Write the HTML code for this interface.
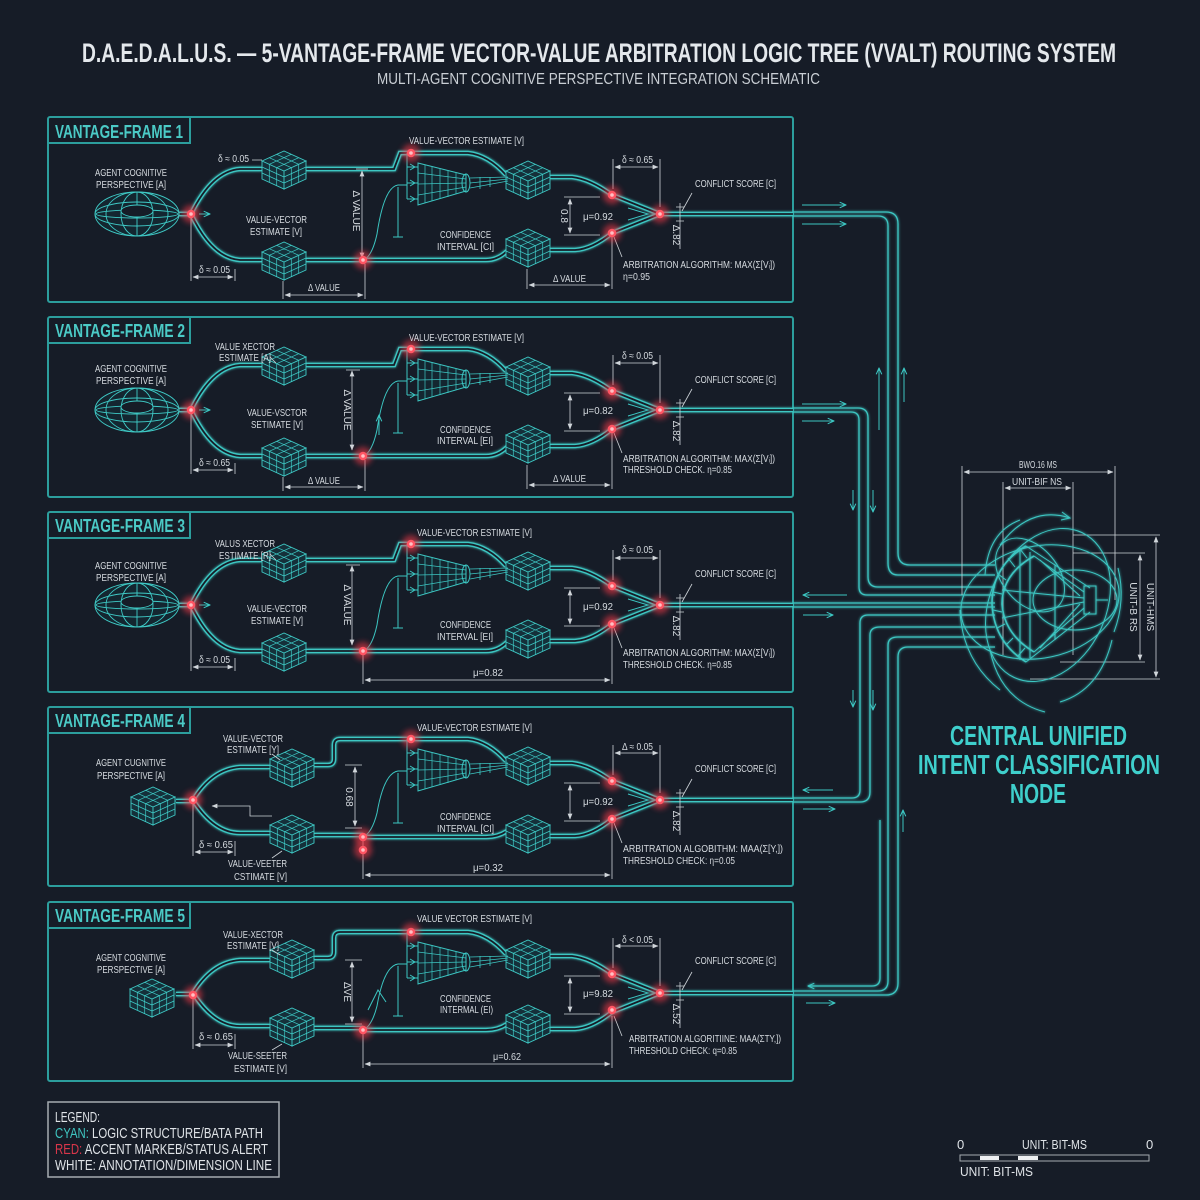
<!DOCTYPE html>
<html><head><meta charset="utf-8"><style>
html,body{margin:0;padding:0;background:#161c27;}
svg{display:block;}
.t{font-family:"Liberation Sans","DejaVu Sans",sans-serif;fill:#d6dbe0;font-size:10px;}
.lab{font-family:"Liberation Sans",sans-serif;font-weight:bold;fill:#4bcac6;font-size:18px;}
</style></head><body>
<svg width="1200" height="1200" viewBox="0 0 1200 1200" xmlns="http://www.w3.org/2000/svg" xmlns:xlink="http://www.w3.org/1999/xlink">
<defs>
<filter id="glow" filterUnits="userSpaceOnUse" x="-200" y="-1200" width="1600" height="2600"><feGaussianBlur stdDeviation="1.3" result="b"/><feMerge><feMergeNode in="b"/><feMergeNode in="SourceGraphic"/></feMerge></filter>
<filter id="rb" filterUnits="userSpaceOnUse" x="-2000" y="-2000" width="4000" height="4000"><feGaussianBlur stdDeviation="3"/></filter>
<marker id="aw" viewBox="0 0 10 10" refX="9" refY="5" markerWidth="6" markerHeight="6" markerUnits="userSpaceOnUse" orient="auto-start-reverse"><path d="M0 1 L10 5 L0 9 z" fill="#d0d5da"/></marker>
<marker id="ac" viewBox="0 0 10 10" refX="9" refY="5" markerWidth="7" markerHeight="7" markerUnits="userSpaceOnUse" orient="auto-start-reverse"><path d="M0 1 L9 5 L0 9" fill="none" stroke="#3cc6c2" stroke-width="1.5"/></marker>

<g id="cube" stroke="#3fcac6" stroke-width="0.9" fill="none">
<path d="M-22 -8 L0 -18 L22 -8 L0 2 Z M-22 -8 L0 2 L0 20 L-22 10 Z M0 2 L22 -8 L22 10 L0 20 Z" fill="#15303a"/>
<path d="M-22 -2 L0 8 M-22 4 L0 14 M-14.7 -4.7 V13.3 M-7.3 -1.3 V16.7 M0 8 L22 -2 M0 14 L22 4 M7.3 -1.3 V16.7 M14.7 -4.7 V13.3 M-14.7 -11.3 L7.3 -1.3 M-7.3 -14.7 L14.7 -4.7 M-14.7 -4.7 L7.3 -14.7 M-7.3 -1.3 L14.7 -11.3" stroke-width="0.7"/>
</g>

<g id="torus" stroke="#3fcac6" stroke-width="0.9" fill="none">
<ellipse rx="42" ry="22" fill="#142630"/>
<ellipse rx="42" ry="12"/>
<ellipse rx="41" ry="4"/>
<ellipse rx="31" ry="22"/>
<ellipse rx="16" ry="22"/>
<path d="M0 -22 V22"/>
<ellipse cy="-3" rx="16" ry="6" fill="#161c27"/>
</g>

<g id="rn"><circle r="9" fill="#ff3b4a" opacity="0.55" filter="url(#rb)"/><circle r="4.3" fill="#ff5563"/><circle r="1.8" fill="#ffc0c4"/></g>

<g id="dblA" fill="none">
<path d="M179 95 H191"/>
<path d="M191 95 Q212 52 240 50 H262"/>
<path d="M191 95 Q212 139 240 141 H262"/>
<path d="M306 50 H394 L400 34 H411"/>
<path d="M306 141 H363"/>
<path d="M363 141 H486 Q498 141 507 132"/>
<path d="M411 34 H468 Q488 36 506 56"/>
<path d="M550 58 H572 Q590 60 612 76 L660 95"/>
<path d="M550 131 H575 Q592 130 612 114 L660 95"/>
<path d="M660 95 H793"/>
</g>
<g id="dblB" fill="none">
<path d="M176 96 H193"/>
<path d="M193 95 Q212 64 240 62 H270"/>
<path d="M193 95 Q214 128 240 128 H270"/>
<path d="M314 60 H328 Q334 60 334 54 V40 Q334 34 340 34 H411"/>
<path d="M314 130 H363"/>
<path d="M363 132 H486 Q498 132 507 126"/>
<path d="M411 34 H468 Q488 36 506 56"/>
<path d="M550 58 H572 Q590 60 612 76 L660 95"/>
<path d="M550 131 H575 Q592 130 612 114 L660 95"/>
<path d="M660 95 H793"/>
</g>

<g id="rthin" fill="none" stroke="#3cc6c2" stroke-width="1">
<path d="M418 44 L466 56 L466 72 L418 86 Z" fill="#142630"/>
<path d="M418 54 L466 60 M418 65 L466 64 M418 76 L466 68 M432 48 V82 M448 52 V78 M425 46 V84 M440 50 V80 M456 54 V75" stroke-width="0.7"/>
<ellipse cx="466" cy="64" rx="4" ry="9"/>
<path d="M470 59 L508 58 M470 64 L508 60 M470 69 L508 62 M480 58 V70 M490 58 V68" stroke-width="0.8"/>
<path d="M407 34 V80 M407 48 H418 M407 64 H418 M407 80 H418"/>
<path d="M410 45 l5 3 -5 3 M410 61 l5 3 -5 3 M410 77 l5 3 -5 3"/>
<path d="M398 68 V118 M393 118 H403"/>
<path d="M628 89 L648 95 L628 101"/>
</g>

<g id="rdim" fill="none" stroke="#cdd3d8" stroke-width="0.8">
<path d="M613 40 V70 M660 40 V88"/>
<path d="M615 48 H658" marker-start="url(#aw)" marker-end="url(#aw)"/>
<path d="M564 78 H600 M564 116 H600"/>
<path d="M570 80 V114" marker-start="url(#aw)" marker-end="url(#aw)"/>
<path d="M680 84 V130"/>
<path d="M676 88 H684 M676 102 H684"/>
<path d="M682 92 L692 74"/>
<path d="M614 118 L622 138"/>
</g>
</defs>

<rect width="1200" height="1200" fill="#161c27"/>

<!-- Title -->
<text x="82" y="62" textLength="1034" lengthAdjust="spacingAndGlyphs" font-family="Liberation Sans, sans-serif" font-weight="bold" font-size="27" fill="#e4e8ec">D.A.E.D.A.L.U.S. — 5-VANTAGE-FRAME VECTOR-VALUE ARBITRATION LOGIC TREE (VVALT) ROUTING SYSTEM</text>
<text x="377" y="84" textLength="443" lengthAdjust="spacingAndGlyphs" font-family="Liberation Sans, sans-serif" font-size="16" fill="#c9ced4">MULTI-AGENT COGNITIVE PERSPECTIVE INTEGRATION SCHEMATIC</text>

<!-- Frame boxes -->
<g fill="none" stroke="#2c9e9d" stroke-width="2">
<rect x="48" y="117" width="745" height="185" rx="2"/><path d="M48 143 H190 V117"/>
<rect x="48" y="317" width="745" height="180" rx="2"/><path d="M48 343 H190 V317"/>
<rect x="48" y="512" width="745" height="180" rx="2"/><path d="M48 538 H190 V512"/>
<rect x="48" y="707" width="745" height="179" rx="2"/><path d="M48 733 H190 V707"/>
<rect x="48" y="902" width="745" height="179" rx="2"/><path d="M48 928 H190 V902"/>
</g>
<text class="lab" x="55" y="138" textLength="128" lengthAdjust="spacingAndGlyphs">VANTAGE-FRAME 1</text>
<text class="lab" x="55" y="337" textLength="130" lengthAdjust="spacingAndGlyphs">VANTAGE-FRAME 2</text>
<text class="lab" x="55" y="532" textLength="130" lengthAdjust="spacingAndGlyphs">VANTAGE-FRAME 3</text>
<text class="lab" x="55" y="727" textLength="130" lengthAdjust="spacingAndGlyphs">VANTAGE-FRAME 4</text>
<text class="lab" x="55" y="922" textLength="130" lengthAdjust="spacingAndGlyphs">VANTAGE-FRAME 5</text>

<!-- ===== FRAME 1 ===== -->
<g transform="translate(0,119)">
<use href="#dblA" stroke="#3cc6c2" stroke-width="4.6" filter="url(#glow)"/>
<use href="#dblA" stroke="#161c27" stroke-width="1.8"/>
<use href="#torus" x="137" y="95"/>
<use href="#cube" x="284" y="50"/><use href="#cube" x="284" y="141"/>
<use href="#cube" x="528" y="60"/><use href="#cube" x="528" y="128"/>
<use href="#rthin"/>
<path d="M363 141 Q372 138 377 115 Q384 68 398 66 H407" fill="none" stroke="#3cc6c2" stroke-width="1"/>
<path d="M199 95 H210" fill="none" stroke="#3cc6c2" stroke-width="1" marker-end="url(#ac)"/>
<use href="#rdim"/>
<g fill="none" stroke="#cdd3d8" stroke-width="0.8">
<path d="M191 99 V162 M235 150 V162 M283 162 V180 M365 145 V180 M252 41 H262 M356 50 H368"/>
<path d="M193 158 H233" marker-start="url(#aw)" marker-end="url(#aw)"/>
<path d="M285 176 H363" marker-start="url(#aw)" marker-end="url(#aw)"/>
<path d="M362 52 V139" marker-start="url(#aw)" marker-end="url(#aw)"/>
<path d="M527 150 V170 M612 118 V170"/>
<path d="M529 166 H610" marker-start="url(#aw)" marker-end="url(#aw)"/>
</g>
<use href="#rn" x="191" y="95"/><use href="#rn" x="411" y="34"/><use href="#rn" x="363" y="141"/>
<use href="#rn" x="612" y="76"/><use href="#rn" x="612" y="114"/><use href="#rn" x="660" y="95"/>
<text class="t" x="95" y="57" textLength="72" lengthAdjust="spacingAndGlyphs">AGENT COGNITIVE</text>
<text class="t" x="96" y="69" textLength="70" lengthAdjust="spacingAndGlyphs">PERSPECTIVE [A]</text>
<text class="t" x="218" y="43" textLength="31" lengthAdjust="spacingAndGlyphs">δ ≈ 0.05</text>
<text class="t" x="246" y="104" textLength="61" lengthAdjust="spacingAndGlyphs">VALUE-VECTOR</text>
<text class="t" x="250" y="116" textLength="52" lengthAdjust="spacingAndGlyphs">ESTIMATE [V]</text>
<text class="t" x="199" y="154" textLength="31" lengthAdjust="spacingAndGlyphs">δ ≈ 0.05</text>
<text class="t" x="308" y="172" textLength="32" lengthAdjust="spacingAndGlyphs">Δ VALUE</text>
<text class="t" transform="translate(353,92) rotate(90)" text-anchor="middle">Δ VALUE</text>
<text class="t" x="409" y="25" textLength="115" lengthAdjust="spacingAndGlyphs">VALUE-VECTOR ESTIMATE [V]</text>
<text class="t" x="622" y="44" textLength="31" lengthAdjust="spacingAndGlyphs">δ ≈ 0.65</text>
<text class="t" x="695" y="68" textLength="81" lengthAdjust="spacingAndGlyphs">CONFLICT SCORE [C]</text>
<text class="t" x="583" y="101" textLength="30" lengthAdjust="spacingAndGlyphs">μ=0.92</text>
<text class="t" transform="translate(561,97) rotate(90)" text-anchor="middle">0.8</text>
<text class="t" x="440" y="119" textLength="51" lengthAdjust="spacingAndGlyphs">CONFIDENCE</text>
<text class="t" x="437" y="131" textLength="57" lengthAdjust="spacingAndGlyphs">INTERVAL [CI]</text>
<text class="t" x="623" y="149" textLength="152" lengthAdjust="spacingAndGlyphs">ARBITRATION ALGORITHM: MAX(Σ[Vᵢ])</text>
<text class="t" x="623" y="161" textLength="27" lengthAdjust="spacingAndGlyphs">η=0.95</text>
<text class="t" x="553" y="163" textLength="33" lengthAdjust="spacingAndGlyphs">Δ VALUE</text>
<text class="t" transform="translate(673,116) rotate(90)" text-anchor="middle" font-size="8">Δ.82</text>
</g>

<!-- ===== FRAME 2 ===== -->
<g transform="translate(0,315)">
<use href="#dblA" stroke="#3cc6c2" stroke-width="4.6" filter="url(#glow)"/>
<use href="#dblA" stroke="#161c27" stroke-width="1.8"/>
<use href="#torus" x="137" y="95"/>
<use href="#cube" x="284" y="50"/><use href="#cube" x="284" y="141"/>
<use href="#cube" x="528" y="60"/><use href="#cube" x="528" y="128"/>
<use href="#rthin"/>
<path d="M363 141 Q372 138 377 115 Q384 68 398 66 H407" fill="none" stroke="#3cc6c2" stroke-width="1"/>
<path d="M199 95 H210" fill="none" stroke="#3cc6c2" stroke-width="1" marker-end="url(#ac)"/>
<path d="M379 120 V100" fill="none" stroke="#3cc6c2" stroke-width="1" marker-end="url(#ac)"/>
<use href="#rdim"/>
<g fill="none" stroke="#cdd3d8" stroke-width="0.8">
<path d="M191 99 V159 M235 148 V159 M283 162 V176 M365 145 V176 M270 42 L276 48 M346 55 H360"/>
<path d="M193 155 H233" marker-start="url(#aw)" marker-end="url(#aw)"/>
<path d="M285 172 H363" marker-start="url(#aw)" marker-end="url(#aw)"/>
<path d="M352 56 V135" marker-start="url(#aw)" marker-end="url(#aw)"/>
<path d="M527 150 V174 M612 118 V174"/>
<path d="M529 170 H610" marker-start="url(#aw)" marker-end="url(#aw)"/>
</g>
<use href="#rn" x="191" y="95"/><use href="#rn" x="411" y="34"/><use href="#rn" x="363" y="141"/>
<use href="#rn" x="612" y="76"/><use href="#rn" x="612" y="114"/><use href="#rn" x="660" y="95"/>
<text class="t" x="95" y="57" textLength="72" lengthAdjust="spacingAndGlyphs">AGENT COGNITIVE</text>
<text class="t" x="96" y="69" textLength="70" lengthAdjust="spacingAndGlyphs">PERSPECTIVE [A]</text>
<text class="t" x="215" y="35" textLength="60" lengthAdjust="spacingAndGlyphs">VALUE XECTOR</text>
<text class="t" x="219" y="46" textLength="52" lengthAdjust="spacingAndGlyphs">ESTIMATE [A]</text>
<text class="t" x="247" y="101" textLength="60" lengthAdjust="spacingAndGlyphs">VALUE-VSCTOR</text>
<text class="t" x="251" y="113" textLength="52" lengthAdjust="spacingAndGlyphs">SETIMATE [V]</text>
<text class="t" x="199" y="151" textLength="31" lengthAdjust="spacingAndGlyphs">δ ≈ 0.65</text>
<text class="t" x="308" y="169" textLength="32" lengthAdjust="spacingAndGlyphs">Δ VALUE</text>
<text class="t" transform="translate(344,95) rotate(90)" text-anchor="middle">Δ VALUE</text>
<text class="t" x="409" y="26" textLength="115" lengthAdjust="spacingAndGlyphs">VALUE-VECTOR ESTIMATE [V]</text>
<text class="t" x="622" y="44" textLength="31" lengthAdjust="spacingAndGlyphs">δ ≈ 0.05</text>
<text class="t" x="695" y="68" textLength="81" lengthAdjust="spacingAndGlyphs">CONFLICT SCORE [C]</text>
<text class="t" x="583" y="99" textLength="30" lengthAdjust="spacingAndGlyphs">μ=0.82</text>
<text class="t" x="440" y="118" textLength="51" lengthAdjust="spacingAndGlyphs">CONFIDENCE</text>
<text class="t" x="437" y="129" textLength="56" lengthAdjust="spacingAndGlyphs">INTERVAL [EI]</text>
<text class="t" x="623" y="147" textLength="152" lengthAdjust="spacingAndGlyphs">ARBITRATION ALGORITHM: MAX(Σ[Vᵢ])</text>
<text class="t" x="623" y="158" textLength="109" lengthAdjust="spacingAndGlyphs">THRESHOLD CHECK. η=0.85</text>
<text class="t" x="553" y="167" textLength="33" lengthAdjust="spacingAndGlyphs">Δ VALUE</text>
<text class="t" transform="translate(673,116) rotate(90)" text-anchor="middle" font-size="8">Δ.82</text>
</g>

<!-- ===== FRAME 3 ===== -->
<g transform="translate(0,510)">
<use href="#dblA" stroke="#3cc6c2" stroke-width="4.6" filter="url(#glow)"/>
<use href="#dblA" stroke="#161c27" stroke-width="1.8"/>
<use href="#torus" x="137" y="95"/>
<use href="#cube" x="284" y="52"/><use href="#cube" x="284" y="141"/>
<use href="#cube" x="528" y="60"/><use href="#cube" x="528" y="128"/>
<use href="#rthin"/>
<path d="M363 141 Q372 138 377 115 Q384 68 398 66 H407" fill="none" stroke="#3cc6c2" stroke-width="1"/>
<path d="M199 95 H210" fill="none" stroke="#3cc6c2" stroke-width="1" marker-end="url(#ac)"/>
<use href="#rdim"/>
<g fill="none" stroke="#cdd3d8" stroke-width="0.8">
<path d="M191 99 V161 M235 148 V161 M270 44 L276 50 M346 55 H360"/>
<path d="M193 157 H233" marker-start="url(#aw)" marker-end="url(#aw)"/>
<path d="M352 56 V135" marker-start="url(#aw)" marker-end="url(#aw)"/>
<path d="M363 145 V174 M612 118 V174"/>
<path d="M365 170 H610" marker-start="url(#aw)" marker-end="url(#aw)"/>
</g>
<use href="#rn" x="191" y="95"/><use href="#rn" x="411" y="34"/><use href="#rn" x="363" y="141"/>
<use href="#rn" x="612" y="76"/><use href="#rn" x="612" y="114"/><use href="#rn" x="660" y="95"/>
<text class="t" x="95" y="59" textLength="72" lengthAdjust="spacingAndGlyphs">AGENT COGNITIVE</text>
<text class="t" x="96" y="71" textLength="70" lengthAdjust="spacingAndGlyphs">PERSPECTIVE [A]</text>
<text class="t" x="215" y="37" textLength="60" lengthAdjust="spacingAndGlyphs">VALUS XECTOR</text>
<text class="t" x="219" y="49" textLength="52" lengthAdjust="spacingAndGlyphs">ESTIMATE [R]</text>
<text class="t" x="247" y="102" textLength="60" lengthAdjust="spacingAndGlyphs">VALUE-VECTOR</text>
<text class="t" x="251" y="114" textLength="52" lengthAdjust="spacingAndGlyphs">ESTIMATE [V]</text>
<text class="t" x="199" y="153" textLength="31" lengthAdjust="spacingAndGlyphs">δ ≈ 0.05</text>
<text class="t" transform="translate(344,95) rotate(90)" text-anchor="middle">Δ VALUE</text>
<text class="t" x="417" y="26" textLength="115" lengthAdjust="spacingAndGlyphs">VALUE-VECTOR ESTIMATE [V]</text>
<text class="t" x="622" y="43" textLength="31" lengthAdjust="spacingAndGlyphs">δ ≈ 0.05</text>
<text class="t" x="695" y="67" textLength="81" lengthAdjust="spacingAndGlyphs">CONFLICT SCORE [C]</text>
<text class="t" x="583" y="100" textLength="30" lengthAdjust="spacingAndGlyphs">μ=0.92</text>
<text class="t" x="440" y="118" textLength="51" lengthAdjust="spacingAndGlyphs">CONFIDENCE</text>
<text class="t" x="437" y="130" textLength="56" lengthAdjust="spacingAndGlyphs">INTERVAL [EI]</text>
<text class="t" x="623" y="146" textLength="152" lengthAdjust="spacingAndGlyphs">ARBITRATION ALGORITHM: MAX(Σ[Vᵢ])</text>
<text class="t" x="623" y="158" textLength="109" lengthAdjust="spacingAndGlyphs">THRESHOLD CHECK. η=0.85</text>
<text class="t" x="473" y="166" textLength="30" lengthAdjust="spacingAndGlyphs">μ=0.82</text>
<text class="t" transform="translate(673,116) rotate(90)" text-anchor="middle" font-size="8">Δ.82</text>
</g>

<!-- ===== FRAME 4 ===== -->
<g transform="translate(0,705)">
<use href="#dblB" stroke="#3cc6c2" stroke-width="4.6" filter="url(#glow)"/>
<use href="#dblB" stroke="#161c27" stroke-width="1.8"/>
<use href="#cube" x="153" y="100"/>
<use href="#cube" x="292" y="62"/><use href="#cube" x="292" y="128"/>
<use href="#cube" x="528" y="60"/><use href="#cube" x="528" y="128"/>
<use href="#rthin"/>
<path d="M363 132 Q372 128 377 108 Q384 68 398 66 H407" fill="none" stroke="#3cc6c2" stroke-width="1"/>
<path d="M212 101 H250 V111 H272" fill="none" stroke="#cdd3d8" stroke-width="0.8" marker-start="url(#aw)"/>
<use href="#rdim"/>
<g fill="none" stroke="#cdd3d8" stroke-width="0.8">
<path d="M193 99 V151 M235 136 V151 M272 49 L280 55 M272 153 L282 146 M345 60 H362 M345 123 H362"/>
<path d="M195 147 H233" marker-start="url(#aw)" marker-end="url(#aw)"/>
<path d="M355 62 V121" marker-start="url(#aw)" marker-end="url(#aw)"/>
<path d="M363 136 V174 M612 118 V174"/>
<path d="M365 170 H610" marker-start="url(#aw)" marker-end="url(#aw)"/>
</g>
<use href="#rn" x="193" y="95"/><use href="#rn" x="411" y="34"/><use href="#rn" x="363" y="132"/><use href="#rn" x="363" y="145"/>
<use href="#rn" x="612" y="76"/><use href="#rn" x="612" y="114"/><use href="#rn" x="660" y="95"/>
<text class="t" x="96" y="61" textLength="70" lengthAdjust="spacingAndGlyphs">AGENT CUGNITIVE</text>
<text class="t" x="97" y="74" textLength="68" lengthAdjust="spacingAndGlyphs">PERSPECTIVE [A]</text>
<text class="t" x="223" y="37" textLength="60" lengthAdjust="spacingAndGlyphs">VALUE-VECTOR</text>
<text class="t" x="227" y="48" textLength="52" lengthAdjust="spacingAndGlyphs">ESTIMATE [Y]</text>
<text class="t" x="228" y="162" textLength="59" lengthAdjust="spacingAndGlyphs">VALUE-VEETER</text>
<text class="t" x="234" y="175" textLength="53" lengthAdjust="spacingAndGlyphs">CSTIMATE [V]</text>
<text class="t" x="199" y="143" textLength="34" lengthAdjust="spacingAndGlyphs">δ ≈ 0.65</text>
<text class="t" transform="translate(346,92) rotate(90)" text-anchor="middle">0.68</text>
<text class="t" x="417" y="26" textLength="115" lengthAdjust="spacingAndGlyphs">VALUE-VECTOR ESTIMATE [V]</text>
<text class="t" x="622" y="45" textLength="31" lengthAdjust="spacingAndGlyphs">Δ ≈ 0.05</text>
<text class="t" x="695" y="67" textLength="81" lengthAdjust="spacingAndGlyphs">CONFLICT SCORE [C]</text>
<text class="t" x="583" y="100" textLength="30" lengthAdjust="spacingAndGlyphs">μ=0.92</text>
<text class="t" x="440" y="115" textLength="51" lengthAdjust="spacingAndGlyphs">CONFIDENCE</text>
<text class="t" x="437" y="127" textLength="57" lengthAdjust="spacingAndGlyphs">INTERVAL [CI]</text>
<text class="t" x="623" y="147" textLength="160" lengthAdjust="spacingAndGlyphs">ARBITRATION ALGOBITHM: MAA(Σ[Y,])</text>
<text class="t" x="623" y="159" textLength="112" lengthAdjust="spacingAndGlyphs">THRESHOLD CHECK: η=0.05</text>
<text class="t" x="473" y="166" textLength="30" lengthAdjust="spacingAndGlyphs">μ=0.32</text>
<text class="t" transform="translate(673,116) rotate(90)" text-anchor="middle" font-size="8">Δ.82</text>
</g>

<!-- ===== FRAME 5 ===== -->
<g transform="translate(0,898)">
<use href="#dblB" stroke="#3cc6c2" stroke-width="4.6" filter="url(#glow)"/>
<use href="#dblB" stroke="#161c27" stroke-width="1.8"/>
<use href="#cube" x="152" y="99"/>
<use href="#cube" x="292" y="60"/><use href="#cube" x="292" y="128"/>
<use href="#cube" x="528" y="60"/><use href="#cube" x="528" y="125"/>
<use href="#rthin"/>
<path d="M363 132 Q372 128 377 108 Q384 68 398 66 H407 M368 112 L378 92 L386 104" fill="none" stroke="#3cc6c2" stroke-width="1"/>
<use href="#rdim"/>
<g fill="none" stroke="#cdd3d8" stroke-width="0.8">
<path d="M193 99 V151 M235 136 V151 M272 52 L280 57 M272 152 L282 146 M345 62 H362 M345 126 H362"/>
<path d="M195 147 H233" marker-start="url(#aw)" marker-end="url(#aw)"/>
<path d="M352 64 V124" marker-start="url(#aw)" marker-end="url(#aw)"/>
<path d="M363 136 V170 M612 118 V170"/>
<path d="M365 166 H610" marker-start="url(#aw)" marker-end="url(#aw)"/>
</g>
<use href="#rn" x="193" y="97"/><use href="#rn" x="411" y="34"/><use href="#rn" x="363" y="132"/>
<use href="#rn" x="612" y="76"/><use href="#rn" x="612" y="112"/><use href="#rn" x="660" y="95"/>
<text class="t" x="96" y="63" textLength="70" lengthAdjust="spacingAndGlyphs">AGENT COGNITIVE</text>
<text class="t" x="97" y="75" textLength="68" lengthAdjust="spacingAndGlyphs">PERSPECTIVE [A]</text>
<text class="t" x="223" y="40" textLength="60" lengthAdjust="spacingAndGlyphs">VALUE-XECTOR</text>
<text class="t" x="227" y="51" textLength="52" lengthAdjust="spacingAndGlyphs">ESTIMATE [V]</text>
<text class="t" x="228" y="161" textLength="59" lengthAdjust="spacingAndGlyphs">VALUE-SEETER</text>
<text class="t" x="234" y="174" textLength="53" lengthAdjust="spacingAndGlyphs">ESTIMATE [V]</text>
<text class="t" x="199" y="142" textLength="34" lengthAdjust="spacingAndGlyphs">δ ≈ 0.65</text>
<text class="t" transform="translate(344,94) rotate(90)" text-anchor="middle">ΔVE</text>
<text class="t" x="417" y="24" textLength="115" lengthAdjust="spacingAndGlyphs">VALUE VECTOR ESTIMATE [V]</text>
<text class="t" x="622" y="45" textLength="31" lengthAdjust="spacingAndGlyphs">δ &lt; 0.05</text>
<text class="t" x="695" y="66" textLength="81" lengthAdjust="spacingAndGlyphs">CONFLICT SCORE [C]</text>
<text class="t" x="583" y="99" textLength="30" lengthAdjust="spacingAndGlyphs">μ=9.82</text>
<text class="t" x="440" y="104" textLength="51" lengthAdjust="spacingAndGlyphs">CONFIDENCE</text>
<text class="t" x="440" y="115" textLength="53" lengthAdjust="spacingAndGlyphs">INTERMAL (EI)</text>
<text class="t" x="629" y="144" textLength="152" lengthAdjust="spacingAndGlyphs">ARBITRATION ALGORITIINE: MAA(ΣΤY,])</text>
<text class="t" x="629" y="156" textLength="108" lengthAdjust="spacingAndGlyphs">THRESHOLD CHECK: q=0.85</text>
<text class="t" x="493" y="162" textLength="28" lengthAdjust="spacingAndGlyphs">μ=0.62</text>
<text class="t" transform="translate(673,116) rotate(90)" text-anchor="middle" font-size="8">Δ.52</text>
</g>

<!-- ===== ROUTING ===== -->
<g fill="none" stroke="#3cc6c2" stroke-width="1.3" filter="url(#glow)">
<path d="M793 212 H886 Q898 212 898 224 V553 Q898 565 910 565 H995"/>
<path d="M793 216 H878 Q888 216 888 226 V563 Q888 575 898 575 H995"/>
<path d="M793 408 H858 Q868 408 868 418 V577 Q868 587 878 587 H995"/>
<path d="M793 412 H851 Q859 412 859 420 V587 Q859 595 867 595 H995"/>
<path d="M793 603 H995"/>
<path d="M793 607 H995"/>
<path d="M793 798 H852 Q860 798 860 790 V623 Q860 615 868 615 H995"/>
<path d="M793 802 H860 Q870 802 870 792 V635 Q870 627 880 627 H995"/>
<path d="M793 991 H878 Q888 991 888 981 V645 Q888 637 898 637 H995"/>
<path d="M793 995 H886 Q898 995 898 983 V657 Q898 647 908 647 H995"/>
<path d="M808 986 H872 Q880 986 880 978 V820" marker-start="url(#ac)"/>
</g>
<g fill="none" stroke="#3cc6c2" stroke-width="1">
<path d="M802 205 H846" marker-end="url(#ac)"/>
<path d="M802 224 H846" marker-end="url(#ac)"/>
<path d="M802 404 H846" marker-end="url(#ac)"/>
<path d="M802 421 H834" marker-end="url(#ac)"/>
<path d="M879 430 V368" marker-end="url(#ac)"/>
<path d="M904 402 V368" marker-end="url(#ac)"/>
<path d="M853 490 V510" marker-end="url(#ac)"/>
<path d="M873 490 V512" marker-end="url(#ac)"/>
<path d="M847 595 H803" marker-end="url(#ac)"/>
<path d="M803 615 H833" marker-end="url(#ac)"/>
<path d="M853 690 V707" marker-end="url(#ac)"/>
<path d="M873 690 V710" marker-end="url(#ac)"/>
<path d="M833 790 H803" marker-end="url(#ac)"/>
<path d="M803 809 H835" marker-end="url(#ac)"/>
<path d="M903 832 V810" marker-end="url(#ac)"/>
<path d="M806 1003 H835" marker-end="url(#ac)"/>
</g>

<!-- ===== HUB ===== -->
<g fill="none" stroke="#cdd3d8" stroke-width="0.8">
<path d="M962 466 V595 M1115 466 V600 M1003 482 V655 M1073 482 V655"/>
<path d="M964 472 H1113" marker-start="url(#aw)" marker-end="url(#aw)"/>
<path d="M1005 488 H1071" marker-start="url(#aw)" marker-end="url(#aw)"/>
<path d="M1073 535 H1160 M1073 553 H1145 M1060 662 H1145 M1030 679 H1160"/>
<path d="M1140 555 V660" marker-start="url(#aw)" marker-end="url(#aw)"/>
<path d="M1156 537 V677" marker-start="url(#aw)" marker-end="url(#aw)"/>
</g>
<text class="t" x="1019" y="468" textLength="38" lengthAdjust="spacingAndGlyphs" font-size="9">BWO.16 MS</text>
<text class="t" x="1012" y="485" textLength="50" lengthAdjust="spacingAndGlyphs" font-size="9">UNIT-BIF NS</text>
<text class="t" transform="translate(1130,607) rotate(90)" text-anchor="middle" font-size="9">UNIT-B RS</text>
<text class="t" transform="translate(1147,607) rotate(90)" text-anchor="middle" font-size="9">UNIT-HMS</text>

<g fill="none" stroke="#3cc6c2" stroke-width="1" filter="url(#glow)">
<ellipse cx="1040" cy="602" rx="80" ry="56" transform="rotate(-12 1040 602)"/>
<ellipse cx="1048" cy="605" rx="58" ry="80" transform="rotate(25 1048 605)"/>
<ellipse cx="1075" cy="600" rx="42" ry="30"/>
<ellipse cx="1030" cy="575" rx="28" ry="42" transform="rotate(-40 1030 575)"/>
<path d="M1000 545 Q1030 505 1070 518"/>
<path d="M1062 512 l8 6 -9 2"/>
<path d="M985 575 Q988 532 1020 520"/>
<path d="M990 650 Q1000 700 1045 712"/>
<path d="M1112 640 Q1100 690 1060 702"/>
<path d="M1118 568 Q1126 600 1114 632"/>
<path d="M960 610 Q962 660 1000 690"/>
<path d="M1026 546 Q992 566 992 604 Q994 642 1026 662" stroke-width="1.6"/>
<path d="M1034 556 Q1002 574 1002 604 Q1004 634 1034 652" stroke-width="1.6"/>
<path d="M1020 549 L1027 558 M1008 558 L1015 567 M998 574 L1006 580 M993 592 L1002 594 M993 610 L1002 612 M997 628 L1005 624 M1006 645 L1013 638 M1018 656 L1025 648"/>
<path d="M1026 546 L1090 588 M1034 556 L1084 592 M1026 662 L1090 612 M1034 652 L1084 608 M1002 590 L1084 598 M1002 618 L1084 602 M1020 548 V660 M1030 552 V658 M1055 565 V640 M1040 560 L1080 596 M1040 648 L1080 604"/>
<rect x="1084" y="586" width="12" height="28"/>
<path d="M1096 600 H1108"/>
</g>

<text x="950" y="745" textLength="177" lengthAdjust="spacingAndGlyphs" font-family="Liberation Sans, sans-serif" font-weight="bold" font-size="28" fill="#3fcfcc">CENTRAL UNIFIED</text>
<text x="918" y="774" textLength="242" lengthAdjust="spacingAndGlyphs" font-family="Liberation Sans, sans-serif" font-weight="bold" font-size="28" fill="#3fcfcc">INTENT CLASSIFICATION</text>
<text x="1010" y="803" textLength="56" lengthAdjust="spacingAndGlyphs" font-family="Liberation Sans, sans-serif" font-weight="bold" font-size="28" fill="#3fcfcc">NODE</text>

<!-- ===== LEGEND ===== -->
<rect x="48" y="1102" width="231" height="75" fill="none" stroke="#a5abb1" stroke-width="1.5"/>
<g font-family="Liberation Sans, sans-serif" font-size="15" fill="#dfe3e7">
<text x="55" y="1122" textLength="45" lengthAdjust="spacingAndGlyphs">LEGEND:</text>
<text x="55" y="1138" textLength="208" lengthAdjust="spacingAndGlyphs"><tspan fill="#3fc6c2">CYAN:</tspan> LOGIC STRUCTURE/BATA PATH</text>
<text x="55" y="1154" textLength="213" lengthAdjust="spacingAndGlyphs"><tspan fill="#d9364a">RED:</tspan> ACCENT MARKEB/STATUS ALERT</text>
<text x="55" y="1170" textLength="217" lengthAdjust="spacingAndGlyphs">WHITE: ANNOTATION/DIMENSION LINE</text>
</g>

<!-- ===== SCALE BAR ===== -->
<g font-family="Liberation Sans, sans-serif" font-size="13" fill="#dfe3e7">
<text x="957" y="1149">0</text>
<text x="1022" y="1149" textLength="65" lengthAdjust="spacingAndGlyphs">UNIT: BIT-MS</text>
<text x="1146" y="1149">0</text>
<text x="960" y="1176" textLength="73" lengthAdjust="spacingAndGlyphs">UNIT: BIT-MS</text>
</g>
<rect x="960" y="1155" width="189" height="6" fill="none" stroke="#a5abb1" stroke-width="1"/>
<rect x="980" y="1156" width="19" height="4" fill="#eef0f2"/>
<rect x="1018" y="1156" width="20" height="4" fill="#eef0f2"/>
</svg>
</body></html>
